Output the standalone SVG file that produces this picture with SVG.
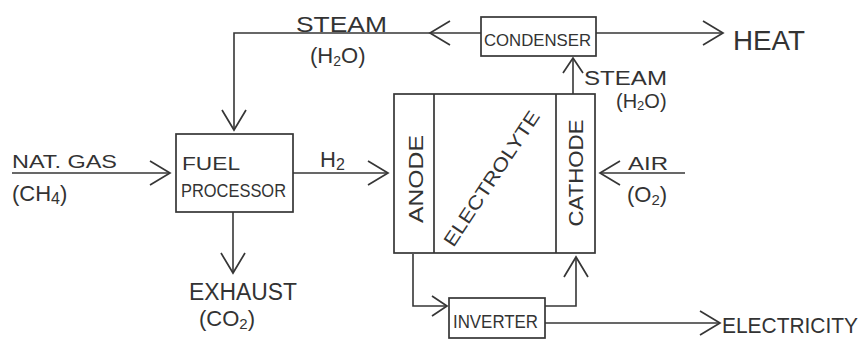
<svg xmlns="http://www.w3.org/2000/svg" width="867" height="342" viewBox="0 0 867 342">
<style>
.box{fill:none;stroke:#363636;stroke-width:1.7}
.ln{fill:none;stroke:#363636;stroke-width:1.6}
.t{font-family:"Liberation Sans","DejaVu Sans",sans-serif;fill:#333;}
</style>
<defs>
<marker id="ah" viewBox="-22 -13 24 26" refX="0" refY="0" markerWidth="24" markerHeight="26" markerUnits="userSpaceOnUse" orient="auto">
<path d="M-20,-12 L0,0 L-20,12" fill="none" stroke="#363636" stroke-width="1.7"/>
</marker>
<marker id="ahs" viewBox="-18 -12 20 24" refX="0" refY="0" markerWidth="20" markerHeight="24" markerUnits="userSpaceOnUse" orient="auto">
<path d="M-15,-10 L0,0 L-15,10" fill="none" stroke="#363636" stroke-width="1.7"/>
</marker>
</defs>
<rect width="867" height="342" fill="#ffffff"/>

<g id="connectors">
<path class="ln" d="M12,173 H170" marker-end="url(#ah)"/>
<path class="ln" d="M293,173 H388" marker-end="url(#ah)"/>
<path class="ln" d="M685,173 H600" marker-end="url(#ah)"/>
<path class="ln" d="M481,33 H430" marker-end="url(#ah)"/>
<path class="ln" d="M430,33 H234 V130" marker-end="url(#ah)"/>
<path class="ln" d="M596,33 H723" marker-end="url(#ah)"/>
<path class="ln" d="M573,94 V58" marker-end="url(#ahs)"/>
<path class="ln" d="M233,212 V273" marker-end="url(#ah)"/>
<path class="ln" d="M413,254 V306 H447" marker-end="url(#ahs)"/>
<path class="ln" d="M545,306 H576 V257" marker-end="url(#ah)"/>
<path class="ln" d="M545,323 H720" marker-end="url(#ah)"/>
</g>

<g id="fuel-processor">
<rect class="box" x="176" y="134" width="117" height="78"/>
<text class="t" x="182" y="170" font-size="18" textLength="58" lengthAdjust="spacingAndGlyphs">FUEL</text>
<text class="t" x="181" y="197" font-size="18" textLength="105" lengthAdjust="spacingAndGlyphs">PROCESSOR</text>
</g>

<g id="fuel-cell">
<rect class="box" x="394" y="94" width="201" height="159"/>
<line class="box" x1="434" y1="94" x2="434" y2="253"/>
<line class="box" x1="556" y1="94" x2="556" y2="253"/>
<text class="t" font-size="21" text-anchor="middle" transform="translate(423,179) rotate(-90)" textLength="88" lengthAdjust="spacingAndGlyphs">ANODE</text>
<text class="t" font-size="21" text-anchor="middle" transform="translate(583,173) rotate(-90)" textLength="107" lengthAdjust="spacingAndGlyphs">CATHODE</text>
<text class="t" font-size="19" text-anchor="middle" transform="translate(497,182) rotate(-56.5)" textLength="158" lengthAdjust="spacingAndGlyphs">ELECTROLYTE</text>
</g>

<g id="condenser">
<rect class="box" x="481" y="17" width="115" height="39"/>
<text class="t" x="484" y="46" font-size="17" textLength="107" lengthAdjust="spacingAndGlyphs">CONDENSER</text>
</g>

<g id="inverter">
<rect class="box" x="449" y="298" width="96" height="40"/>
<text class="t" x="453" y="328" font-size="18" textLength="85" lengthAdjust="spacingAndGlyphs">INVERTER</text>
</g>

<g id="labels">
<text class="t" x="296" y="32" font-size="22" textLength="91" lengthAdjust="spacingAndGlyphs">STEAM</text>
<text class="t" x="310" y="63" font-size="22">(H<tspan font-size="14" dy="3">2</tspan><tspan dy="-3">O)</tspan></text>
<text class="t" x="733" y="50" font-size="27" textLength="72" lengthAdjust="spacingAndGlyphs">HEAT</text>
<text class="t" x="584" y="85" font-size="20" textLength="83" lengthAdjust="spacingAndGlyphs">STEAM</text>
<text class="t" x="616" y="108" font-size="20">(H<tspan font-size="13" dy="2">2</tspan><tspan dy="-2">O)</tspan></text>
<text class="t" x="12" y="168" font-size="18" textLength="105" lengthAdjust="spacingAndGlyphs">NAT. GAS</text>
<text class="t" x="12" y="201" font-size="22">(CH<tspan font-size="16" dy="3">4</tspan><tspan dy="-3">)</tspan></text>
<text class="t" x="320" y="167" font-size="22">H<tspan font-size="16" dy="3">2</tspan></text>
<text class="t" x="189" y="300" font-size="23" textLength="108" lengthAdjust="spacingAndGlyphs">EXHAUST</text>
<text class="t" x="199" y="326" font-size="22">(CO<tspan font-size="15" dy="3">2</tspan><tspan dy="-3">)</tspan></text>
<text class="t" x="628" y="170" font-size="18" textLength="40" lengthAdjust="spacingAndGlyphs">AIR</text>
<text class="t" x="627" y="202" font-size="22">(O<tspan font-size="15" dy="3">2</tspan><tspan dy="-3">)</tspan></text>
<text class="t" x="722" y="333" font-size="22" textLength="136" lengthAdjust="spacingAndGlyphs">ELECTRICITY</text>
</g>
</svg>
